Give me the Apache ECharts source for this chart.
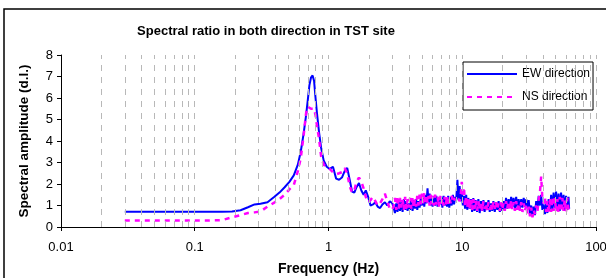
<!DOCTYPE html>
<html><head><meta charset="utf-8">
<script src="https://cdn.jsdelivr.net/npm/echarts@6/dist/echarts.min.js"></script>
<style>html,body{margin:0;padding:0;background:#fff}#c{width:606px;height:278px}</style>
</head><body><div id="c"></div>
<script>
var title = 'Spectral ratio in both direction in TST site';
var xName = 'Frequency (Hz)';
var yName = 'Spectral amplitude (d.l.)';
var seriesNames = ['EW direction', 'NS direction'];
var yTicks = [0,1,2,3,4,5,6,7,8];
var gridFreqs = [0.02,0.03,0.04,0.05,0.06,0.07,0.08,0.09,0.1,0.2,0.3,0.4,0.5,0.6,0.7,0.8,0.9,1,2,3,4,5,6,7,8,9,10,20,30,40,50,60,70,80,90,100];

var freq = [0.03,0.05,0.08,0.12,0.16,0.19,0.22,0.25,0.28,0.31,0.35,0.39,0.43,0.47,0.51,0.55,0.59,0.62,0.65,0.68,0.70,0.72,0.74,0.76,0.78,0.80,0.82,0.85,0.88,0.92,0.97,1.02,1.08,1.14,1.20,1.26,1.32,1.38,1.44,1.50,1.56,1.62,1.69,1.76,1.83,1.90,1.98,2.06,2.15,2.24,2.33,2.43,2.53,2.64,2.75,2.87,3.0,
3.07,3.14,3.21,3.28,3.35,3.42,3.5,3.58,3.66,3.74,3.82,3.9,3.98,
4.07,4.16,4.25,4.34,4.43,4.52,4.61,4.7,4.8,4.9,5.0,5.1,5.2,5.3,5.4,5.5,5.6,5.7,5.8,5.9,6.0,
6.13,6.26,6.4,6.54,6.68,6.82,6.96,7.1,7.25,7.4,7.55,7.7,7.85,8.0,8.17,8.34,8.51,8.68,8.85,9.02,9.2,9.38,9.56,9.74,9.92,10.1,
10.3,10.5,10.7,10.9,11.1,11.35,11.6,11.85,12.1,12.35,12.6,12.9,13.2,13.5,13.8,14.1,14.4,14.7,15.0,15.35,15.7,16.05,16.4,16.75,17.1,17.5,17.9,18.3,18.7,19.1,19.5,19.9,
20.35,20.8,21.25,21.7,22.2,22.7,23.2,23.7,24.2,24.75,25.3,25.85,26.4,27.0,27.6,28.2,28.8,29.45,30.1,30.75,31.4,32.1,32.8,33.5,34.2,34.95,35.7,36.5,37.3,38.1,38.9,39.75,
40.6,41.5,42.4,43.3,44.25,45.2,46.2,47.2,48.2,49.25,50.3,51.4,52.5,53.6,54.8,56.0,57.2,58.4,59.7,61.0,62.3,63.0];

var ew = [0.71,0.71,0.71,0.71,0.71,0.72,0.78,0.92,1.05,1.08,1.15,1.38,1.6,1.85,2.1,2.4,2.9,3.5,4.3,5.2,5.9,6.6,6.95,7.05,6.8,6.0,5.3,4.4,3.7,3.1,2.8,2.7,2.8,2.25,2.2,2.3,2.6,2.75,2.2,1.65,1.6,1.85,2.05,1.7,1.5,1.7,1.4,1.0,1.05,1.15,0.95,0.88,1.05,1.15,1.0,1.2,1.1,
0.9,0.65,1.1,0.7,1.25,0.75,1.15,0.7,1.3,0.8,1.2,0.75,1.1,
0.8,1.3,0.75,1.25,0.85,1.3,0.8,1.2,0.9,1.35,1.0,1.45,0.95,1.5,1.1,1.8,1.15,1.55,1.0,1.45,0.95,
1.4,1.0,1.45,0.95,1.35,1.05,1.4,0.9,1.45,1.0,1.35,0.95,1.45,0.9,1.4,1.0,1.5,1.05,1.4,1.3,2.2,1.25,1.9,1.2,1.6,1.0,
1.45,0.85,1.5,0.8,1.35,0.85,1.3,0.7,1.35,0.75,1.25,0.7,1.3,0.65,1.2,0.75,1.25,0.7,1.15,0.8,1.25,0.7,1.1,0.75,1.2,0.7,1.15,0.8,1.2,0.7,1.1,0.75,
1.2,0.8,1.35,0.85,1.3,0.9,1.4,0.95,1.35,0.85,1.4,0.9,1.3,0.85,1.3,0.9,1.35,0.95,1.3,0.9,1.25,0.6,1.0,0.5,0.95,0.55,1.2,0.9,1.45,1.0,1.5,0.8,
1.05,0.6,1.1,0.65,1.3,0.75,1.5,0.8,1.6,0.9,1.65,0.8,1.55,0.75,1.6,0.85,1.5,0.75,1.45,0.8,1.4,0.85];

var ns = [0.3,0.3,0.3,0.3,0.32,0.45,0.55,0.65,0.68,0.72,0.95,1.12,1.3,1.5,1.75,1.95,2.6,3.2,4.2,5.3,5.6,5.55,5.5,5.5,5.5,5.2,4.7,4.1,3.3,2.9,2.8,2.7,2.55,2.45,2.5,2.55,2.74,2.5,1.9,1.6,1.7,2.1,2.3,2.1,1.8,1.4,1.15,1.25,1.4,1.2,1.0,1.1,1.3,1.55,1.2,0.85,0.8,
1.0,1.35,0.8,1.45,0.85,1.35,0.9,1.3,0.8,1.4,0.85,1.3,0.9,
1.35,0.85,1.4,0.9,1.3,0.95,1.45,1.0,1.5,1.05,1.55,1.1,1.6,1.05,1.5,1.1,1.45,1.0,1.5,1.05,1.45,
1.0,1.5,1.05,1.4,0.95,1.45,1.05,1.35,1.0,1.4,1.05,1.45,1.0,1.4,1.1,1.45,1.15,1.35,1.2,1.3,1.25,1.3,1.2,1.5,2.1,1.4,
1.85,0.95,1.45,0.9,1.35,0.85,1.3,0.8,1.3,0.85,1.25,0.75,1.2,0.8,1.15,0.75,1.2,0.85,1.1,0.75,1.15,0.8,1.1,0.75,1.2,0.85,1.15,0.8,1.1,0.75,1.15,0.8,
1.1,0.75,1.2,0.85,1.2,0.8,1.25,0.8,1.15,0.75,1.2,0.8,1.1,0.75,1.15,0.7,1.1,0.75,1.05,0.6,0.95,0.5,0.9,0.45,0.8,0.6,1.0,0.7,1.3,1.6,2.35,1.3,
1.1,1.4,0.7,1.2,0.65,1.3,0.7,1.4,0.75,1.35,0.7,1.3,0.65,1.4,0.7,1.35,0.75,1.3,0.7,1.35,0.8,0.75];

var chart = echarts.init(document.getElementById('c'), null, {renderer:'canvas'});
var FONT = 'Liberation Sans, Arial, sans-serif';
chart.setOption({
  animation:false,
  backgroundColor:'#fff',
  title:{text:title,left:261,top:20,textAlign:'center',textStyle:{fontFamily:FONT,fontSize:13,fontWeight:'bold',color:'#000'}},
  graphic:[{type:'rect',shape:{x:4,y:9,width:800,height:400},style:{fill:'none',stroke:'#000',lineWidth:1.5},silent:true}],
  legend:{data:seriesNames,orient:'vertical',left:463,top:62,itemWidth:50,itemHeight:14,itemGap:11,padding:[6,3,7,3],
    itemStyle:{opacity:0},
    borderColor:'#000',borderWidth:1,backgroundColor:'#fff',textStyle:{fontFamily:FONT,fontSize:12,color:'#000'}},
  grid:{left:61,right:10,top:55,bottom:51,outerBoundsMode:'none',containLabel:false},
  xAxis:{type:'log',logBase:10,min:0.01,max:100,name:xName,nameLocation:'middle',nameGap:35,
    nameTextStyle:{fontFamily:FONT,fontSize:14,fontWeight:'bold',color:'#000'},
    axisLine:{lineStyle:{color:'#000',width:1}},axisTick:{show:true,length:4,lineStyle:{color:'#000'}},
    axisLabel:{fontFamily:FONT,fontSize:13,color:'#000',margin:14,formatter:function(v){return String(v);}},
    splitLine:{show:false}},
  yAxis:{type:'value',min:yTicks[0],max:yTicks[yTicks.length-1],interval:1,name:yName,nameLocation:'middle',nameGap:30,
    nameTextStyle:{fontFamily:FONT,fontSize:13.5,fontWeight:'bold',color:'#000'},
    axisLine:{show:true,lineStyle:{color:'#000',width:1}},axisTick:{show:true,length:4,lineStyle:{color:'#000'}},
    axisLabel:{fontFamily:FONT,fontSize:13,color:'#000',margin:8},splitLine:{show:false}},
  series:[
    {name:'grid',type:'line',data:[],silent:true,z:1,
     markLine:{silent:true,symbol:['none','none'],label:{show:false},animation:false,
       lineStyle:{color:'#b8b8b8',type:[6,6],width:1},
       data:gridFreqs.map(function(f){return {xAxis:f};})}},
    {name:seriesNames[0],type:'line',showSymbol:false,symbol:'none',z:3,
     lineStyle:{color:'#0000ff',width:2},itemStyle:{color:'#0000ff'},
     data:freq.map(function(f,i){return [f,ew[i]];})},
    {name:seriesNames[1],type:'line',showSymbol:false,symbol:'none',z:4,
     lineStyle:{color:'#ff00ff',width:2.5,type:[5,5]},itemStyle:{color:'#ff00ff'},
     data:freq.map(function(f,i){return [f,ns[i]];})}
  ]
});
</script></body></html>
